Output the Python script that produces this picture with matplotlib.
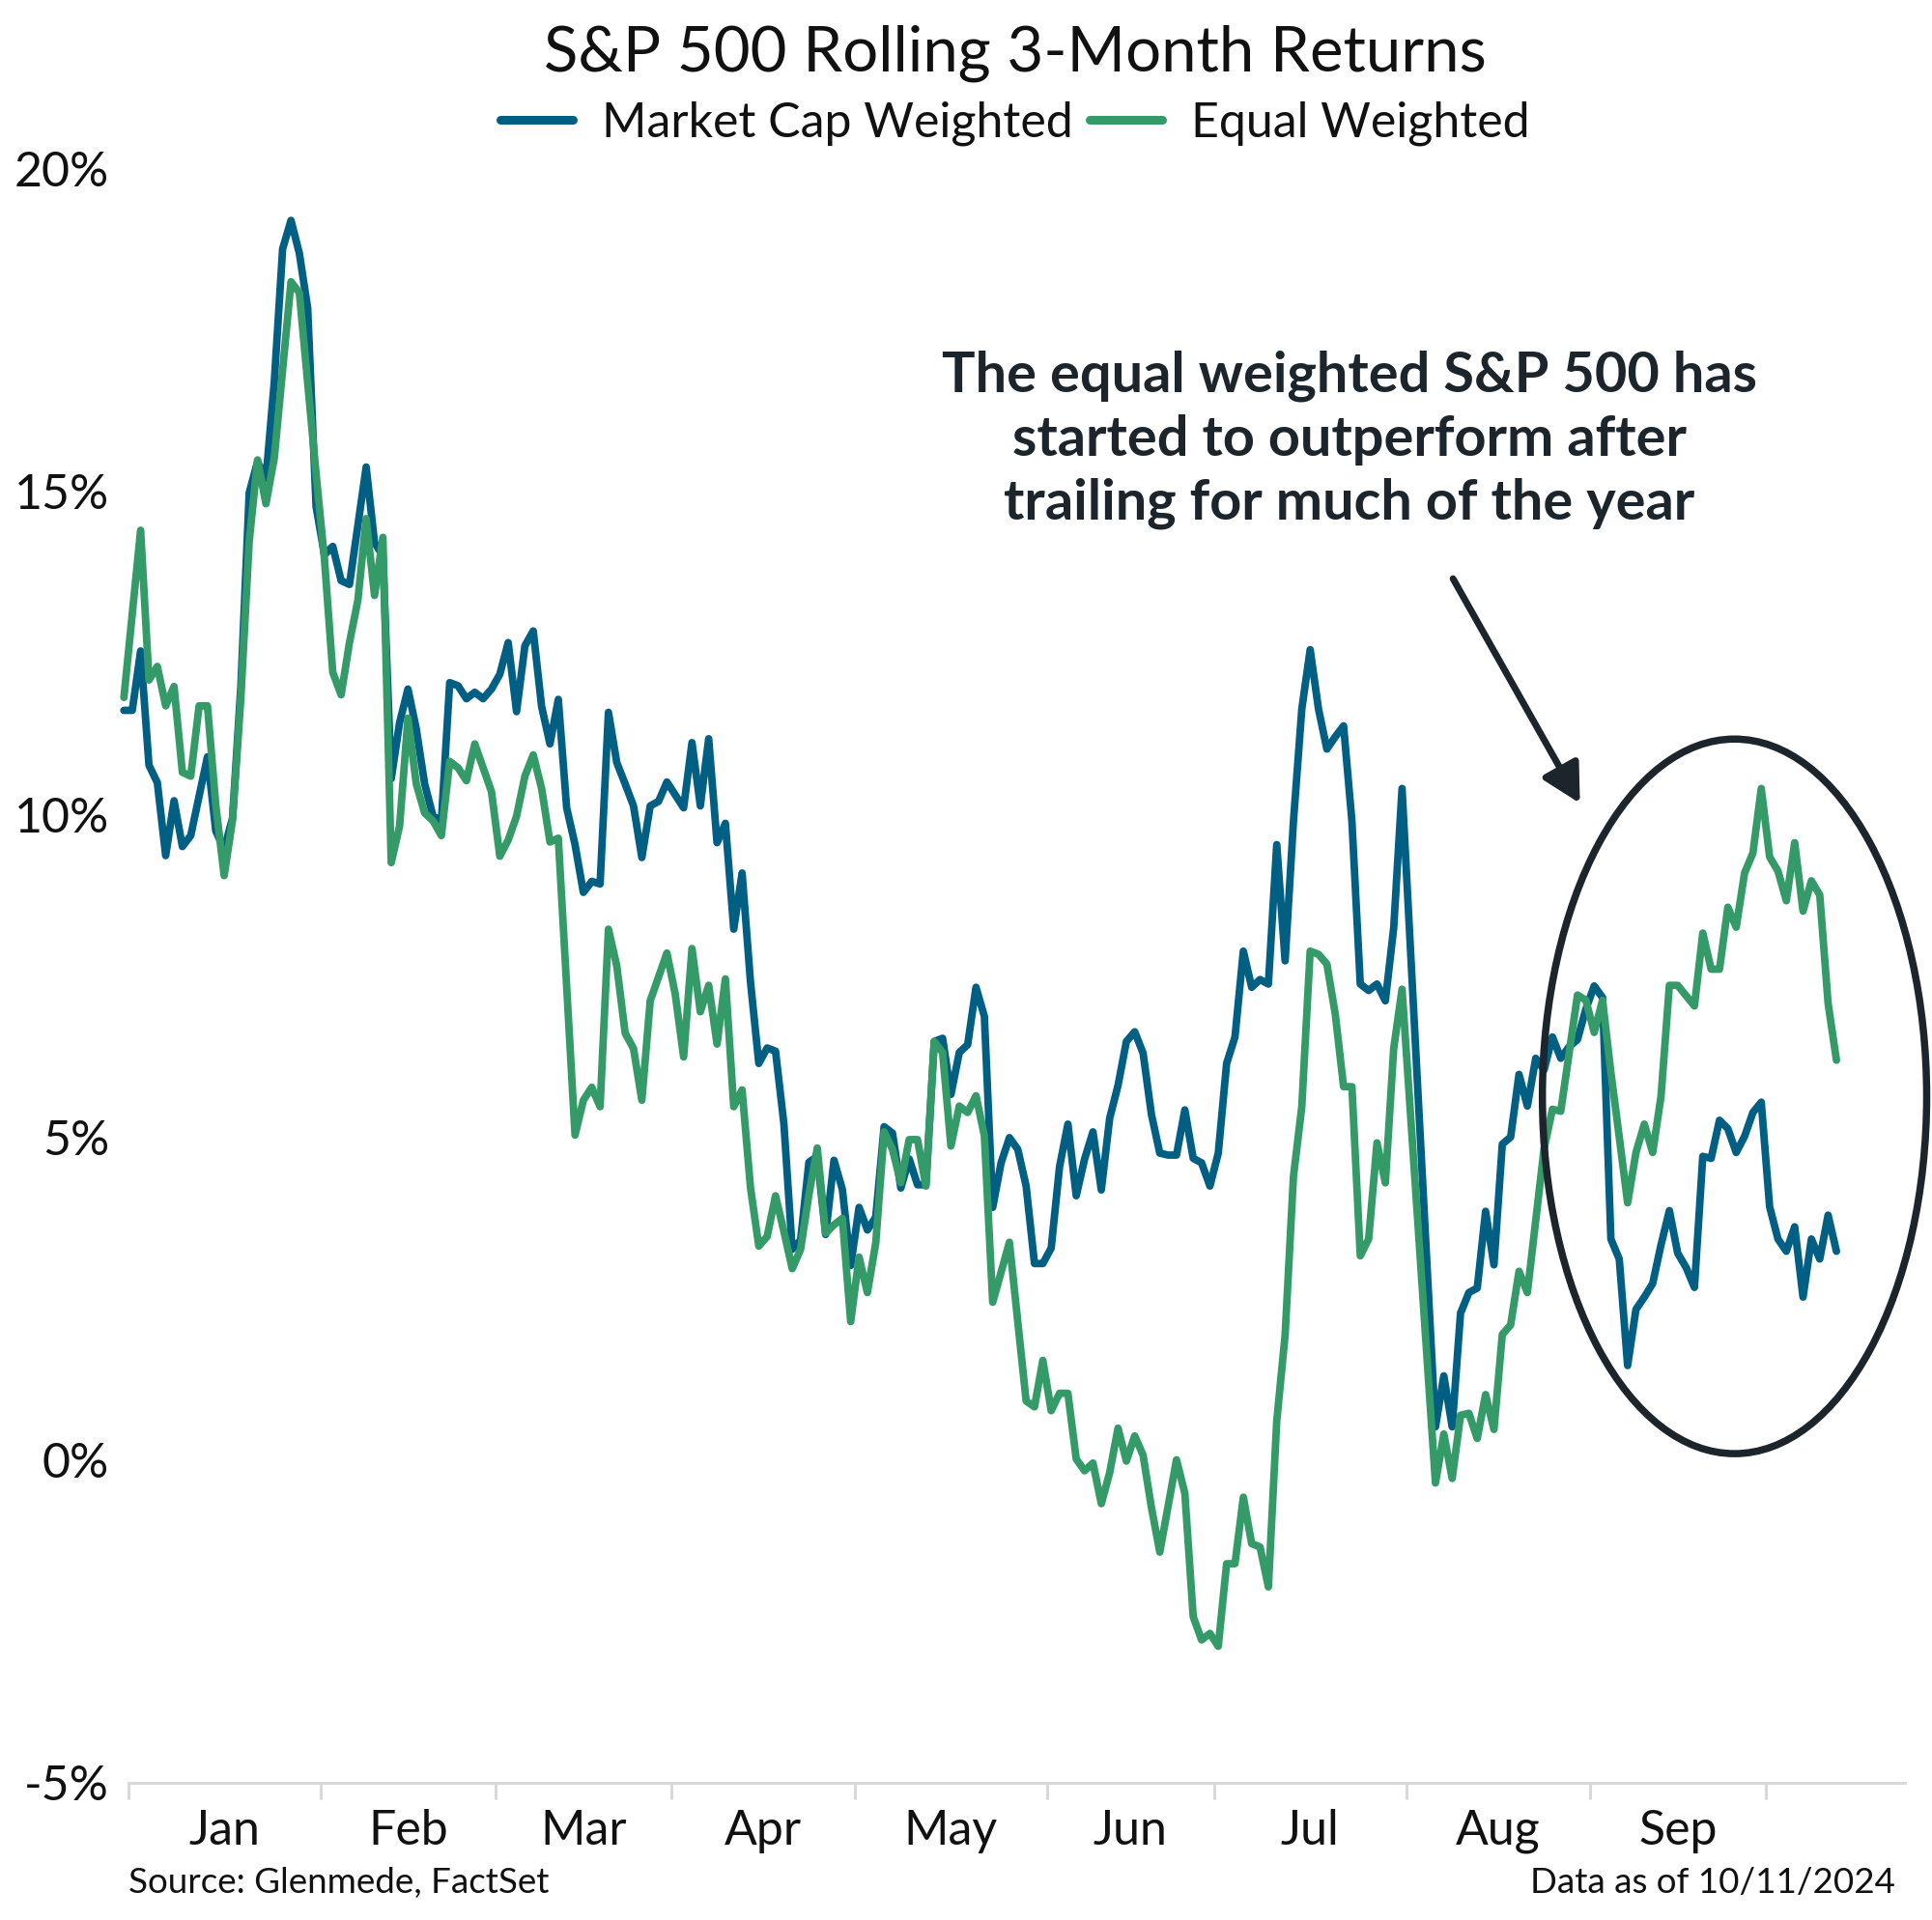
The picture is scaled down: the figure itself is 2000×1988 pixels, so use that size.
import numpy as np
import pandas as pd
import matplotlib
matplotlib.use("Agg")
import matplotlib.pyplot as plt
from matplotlib.patches import Ellipse
from matplotlib.ticker import FuncFormatter, FixedLocator

plt.rcParams['font.family'] = ['Lato', 'DejaVu Sans']

# x = weekday number counted from 2023-12-29 (0), values in %
mc_day = [0, 1, 2, 3, 4, 5, 6, 7, 8, 10, 11, 12, 13, 14, 15, 16, 17, 18, 19, 20,
          21, 22, 23, 24, 25, 26, 27, 29, 30, 31, 32, 33, 34, 35, 36, 37, 38, 39, 40, 41,
          42, 43, 44, 45, 46, 47, 48, 49, 50, 51, 52, 53, 54, 55, 56, 57, 58, 59, 60, 61,
          62, 63, 64, 65, 66, 67, 68, 69, 70, 71, 72, 73, 74, 75, 76, 77, 78, 79, 80, 81,
          82, 83, 84, 85, 86, 87, 88, 89, 90, 91, 92, 93, 94, 95, 96, 97, 98, 99, 100, 101,
          102, 103, 104, 105, 106, 107, 108, 109, 110, 111, 112, 113, 114, 115, 116, 117, 118, 119, 120, 121,
          122, 123, 124, 125, 126, 127, 128, 129, 130, 131, 132, 133, 134, 135, 136, 137, 138, 139, 140, 141,
          142, 143, 144, 145, 146, 147, 148, 149, 150, 151, 152, 153, 157, 158, 159, 160, 161, 162, 163, 164,
          165, 166, 167, 168, 169, 170, 171, 172, 173, 174, 175, 176, 177, 178, 179, 180, 181, 182, 183, 184,
          185, 186, 187, 188, 189, 190, 191, 192, 193, 194, 195, 196, 197, 198, 199, 200, 201, 202, 203, 204, 205]
mc_ret = [11.61, 11.61, 12.53, 10.76, 10.49, 9.36, 10.21, 9.50, 9.67, 10.89, 9.74, 9.46, 9.94, 11.98, 14.98, 15.46, 15.20, 16.70, 18.76, 19.20,
          18.69, 17.84, 14.77, 14.02, 14.15, 13.62, 13.56, 15.38, 14.21, 14.00, 10.55, 11.42, 11.94, 11.32, 10.47, 9.97, 9.90, 12.04, 11.99, 11.79,
          11.89, 11.79, 11.94, 12.17, 12.66, 11.59, 12.61, 12.84, 11.67, 11.09, 11.78, 10.10, 9.53, 8.79, 8.96, 8.92, 11.58, 10.80, 10.47, 10.13,
          9.33, 10.13, 10.20, 10.50, 10.30, 10.10, 11.11, 10.13, 11.17, 9.56, 9.86, 8.22, 9.09, 7.41, 6.14, 6.38, 6.33, 5.21, 3.26, 3.40,
          4.61, 4.70, 3.49, 4.64, 4.19, 3.01, 3.91, 3.56, 3.76, 5.16, 5.06, 4.21, 4.66, 4.26, 4.26, 6.48, 6.53, 5.66, 6.31, 6.43,
          7.32, 6.87, 3.91, 4.60, 4.99, 4.81, 4.24, 3.04, 3.04, 3.28, 4.54, 5.20, 4.09, 4.66, 5.08, 4.18, 5.29, 5.80, 6.48, 6.63,
          6.30, 5.35, 4.75, 4.72, 4.72, 5.42, 4.67, 4.60, 4.24, 4.75, 6.14, 6.55, 7.88, 7.32, 7.44, 7.37, 9.53, 7.73, 9.89, 11.63,
          12.55, 11.63, 11.01, 11.20, 11.37, 9.89, 7.37, 7.27, 7.37, 7.11, 8.24, 10.40, 0.51, 1.30, 0.51, 2.27, 2.59, 2.66, 3.85, 3.02,
          4.89, 5.00, 5.97, 5.48, 6.22, 6.04, 6.55, 6.22, 6.40, 6.51, 6.98, 7.34, 7.16, 3.42, 3.11, 1.46, 2.33, 2.52, 2.73, 3.33,
          3.86, 3.20, 2.98, 2.67, 4.70, 4.67, 5.26, 5.13, 4.76, 5.01, 5.38, 5.54, 3.92, 3.42, 3.23, 3.61, 2.52, 3.42, 3.11, 3.79, 3.23]

ew_day = [0, 2, 3, 4, 5, 6, 7, 8, 9, 10, 11, 12, 13, 14, 15, 16, 17, 18, 20, 21,
          23, 24, 25, 26, 27, 28, 29, 30, 31, 32, 33, 34, 35, 36, 37, 38, 39, 40, 41, 42,
          44, 45, 46, 47, 48, 49, 50, 51, 52, 54, 55, 56, 57, 58, 59, 60, 61, 62, 63, 64,
          65, 66, 67, 68, 69, 70, 71, 72, 73, 74, 75, 76, 77, 78, 79, 80, 81, 82, 83, 84,
          85, 86, 87, 88, 89, 90, 91, 92, 93, 94, 95, 96, 97, 98, 99, 100, 101, 102, 103, 104,
          106, 108, 109, 110, 111, 112, 113, 114, 115, 116, 117, 118, 119, 120, 121, 122, 123, 124, 126, 127,
          128, 129, 130, 131, 132, 133, 134, 135, 136, 137, 138, 139, 140, 141, 142, 143, 144, 145, 146, 147,
          148, 149, 150, 151, 152, 153, 157, 158, 159, 160, 161, 162, 163, 164, 165, 166, 167, 168, 170, 171,
          172, 174, 175, 176, 177, 178, 179, 180, 181, 182, 183, 184, 185, 186, 187, 188, 189, 190, 191, 192,
          193, 194, 195, 196, 197, 198, 199, 200, 201, 202, 203, 204, 205]
ew_ret = [11.81, 14.40, 12.08, 12.29, 11.68, 11.98, 10.65, 10.59, 11.68, 11.68, 10.14, 9.05, 9.91, 11.81, 14.23, 15.49, 14.81, 15.52, 18.25, 18.08,
          15.28, 13.96, 12.20, 11.85, 12.66, 13.31, 14.58, 13.39, 14.29, 9.25, 9.82, 11.49, 10.47, 10.02, 9.90, 9.67, 10.82, 10.72, 10.52, 11.09,
          10.35, 9.35, 9.60, 9.97, 10.59, 10.92, 10.40, 9.57, 9.63, 5.03, 5.57, 5.77, 5.47, 8.22, 7.65, 6.61, 6.37, 5.57, 7.11, 7.48,
          7.85, 7.21, 6.24, 7.92, 6.94, 7.35, 6.44, 7.45, 5.47, 5.73, 4.22, 3.31, 3.46, 4.09, 3.54, 2.96, 3.26, 4.11, 4.83, 3.51,
          3.64, 3.74, 2.14, 3.14, 2.59, 3.36, 5.08, 4.81, 4.29, 4.96, 4.96, 4.24, 6.48, 6.31, 4.86, 5.48, 5.38, 5.64, 5.02, 2.44,
          3.37, 0.91, 0.82, 1.54, 0.76, 1.03, 1.03, 0.01, -0.17, -0.05, -0.68, -0.20, 0.49, -0.02, 0.37, 0.07, -0.74, -1.43, 0.00, -0.52,
          -2.43, -2.79, -2.69, -2.89, -1.61, -1.61, -0.58, -1.30, -1.35, -1.97, 0.60, 1.93, 4.39, 5.47, 7.88, 7.83, 7.68, 6.91, 5.78, 5.78,
          3.16, 3.42, 4.91, 4.29, 6.37, 7.29, -0.36, 0.40, -0.29, 0.69, 0.72, 0.33, 1.01, 0.47, 1.94, 2.09, 2.92, 2.59, 4.82, 5.43,
          5.40, 7.20, 7.12, 6.62, 7.12, 6.00, 5.00, 3.98, 4.76, 5.20, 4.76, 5.63, 7.35, 7.35, 7.19, 7.03, 8.16, 7.60, 7.60, 8.56,
          8.25, 9.09, 9.40, 10.40, 9.34, 9.12, 8.66, 9.56, 8.50, 8.97, 8.75, 7.07, 6.19]

month_names = ["Jan", "Feb", "Mar", "Apr", "May", "Jun", "Jul", "Aug", "Sep"]
y_ticks = [-5, 0, 5, 10, 15, 20]

blue = "#005F83"
green = "#349A67"
dark = "#1C252C"

# month boundaries on the weekday axis
dates = pd.bdate_range("2023-12-29", "2024-10-11")
bounds = [i - 0.5 for i in range(1, len(dates)) if dates[i].month != dates[i - 1].month]
centers = [(bounds[k] + bounds[k + 1]) / 2 for k in range(len(month_names))]

fig = plt.figure(figsize=(20, 19.88), dpi=100)
ax = fig.add_axes([0.0663, 0.0716, 0.9197, 0.8405])

ax.plot(mc_day, mc_ret, color=blue, lw=5.6, solid_joinstyle="round",
        solid_capstyle="round", label="Market Cap Weighted", clip_on=False, zorder=3)
ax.plot(ew_day, ew_ret, color=green, lw=5.6, solid_joinstyle="round",
        solid_capstyle="round", label="Equal Weighted", clip_on=False, zorder=3)

ax.set_xlim(bounds[0], 213.2)
ax.set_ylim(-5, 20)

for s in ["top", "right", "left"]:
    ax.spines[s].set_visible(False)
ax.spines["bottom"].set_color("#D9D9D9")
ax.spines["bottom"].set_linewidth(2.2)

ax.xaxis.set_major_locator(FixedLocator(bounds))
ax.xaxis.set_major_formatter(plt.NullFormatter())
ax.set_xticks(centers, month_names, minor=True)
ax.tick_params(axis="x", which="major", length=12, width=2.2, color="#D9D9D9")
ax.tick_params(axis="x", which="minor", length=0, pad=20, labelsize=36, labelcolor="#111111")

ax.set_yticks(y_ticks)
ax.yaxis.set_major_formatter(FuncFormatter(lambda v, p: f"{v:.0f}%"))
ax.tick_params(axis="y", length=0, pad=14, labelsize=36, labelcolor="#111111")

fig.text(0.5255, 0.972, "S&P 500 Rolling 3-Month Returns", ha="center", va="center",
         fontsize=47, color="#111111")
leg = fig.legend(loc="center", bbox_to_anchor=(0.5255, 0.9355), ncol=2, frameon=False,
                 fontsize=36, handlelength=1.5, handletextpad=0.6, columnspacing=0.35,
                 labelcolor="#111111")
for h in leg.legend_handles:
    h.set_linewidth(6.5)

ax.text(146.7, 15.8, "The equal weighted S&P 500 has\nstarted to outperform after\ntrailing for much of the year",
        ha="center", va="center", fontsize=41.5, fontweight="bold", color=dark, linespacing=1.3)
ax.annotate("", xy=(174.3, 10.17), xytext=(159.1, 13.65),
            arrowprops=dict(arrowstyle="-|>,head_length=0.6,head_width=0.32", lw=5,
                            color=dark, mutation_scale=40, shrinkA=0, shrinkB=0))
ax.add_patch(Ellipse((192.8, 5.63), 46.0, 11.07, fill=False, lw=5.4, edgecolor=dark,
                     clip_on=False, zorder=4))

fig.text(0.0663, 0.0196, "Source: Glenmede, FactSet", ha="left", va="center", fontsize=26.5, color="#111111")
fig.text(0.981, 0.0196, "Data as of 10/11/2024", ha="right", va="center", fontsize=26.5, color="#111111")

fig.savefig("out.png", dpi=100, facecolor="white")
